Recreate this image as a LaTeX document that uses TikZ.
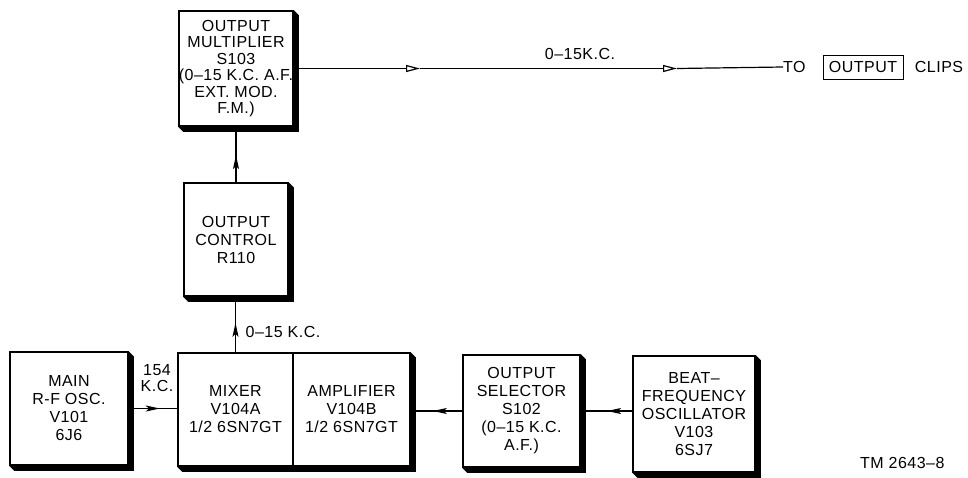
\documentclass[tikz,border=0pt]{standalone}
\usepackage{fontspec}
\setmainfont{Liberation Sans}[LetterSpace=3]
\usetikzlibrary{arrows.meta,decorations.markings,calc}
\newcommand\shadowof[2]{\fill (#1.north east) -- ++(5,5) -- ($(#1.south east)+(5,5)$) -- ($(#2.south west)+(5,5)$) -- (#2.south west) -- (#1.south east) -- cycle;}
\begin{document}
\begin{tikzpicture}[x=1pt,y=-1pt,
  blk/.style={draw, line width=1.5pt, fill=white, align=center, inner sep=0pt, font=\fontsize{16}{18}\selectfont},
  lbl/.style={font=\fontsize{16}{16}\selectfont, inner sep=0pt, align=center},
  flow/.style={line width=1.2pt},
  midarrow/.style={postaction={decorate}, decoration={markings, mark=at position #1 with {\arrow{Stealth[length=14pt,width=6pt,inset=3pt]}}}},
  openarrow/.style={-{Triangle[open,length=14pt,width=7pt,line width=1.2pt]}},
]
\useasboundingbox (0,0) rectangle (968,477);
% boxes
\node[blk, minimum width=106pt, minimum height=115pt, font=\fontsize{16}{16.5}\selectfont] (mult) at (236,68.5)
  {OUTPUT\\MULTIPLIER\\S103\\(0–15 K.C. A.F.\\EXT. MOD.\\F.M.)};
\node[blk, minimum width=104pt, minimum height=113pt] (ctrl) at (236,239.5)
  {OUTPUT\\CONTROL\\R110};
\node[blk, minimum width=118pt, minimum height=113pt] (osc) at (69,408.5)
  {MAIN\\R-F OSC.\\V101\\6J6};
\node[blk, minimum width=115pt, minimum height=113pt] (mixer) at (235.5,409.5)
  {MIXER\\V104A\\1/2 6SN7GT};
\node[blk, minimum width=117pt, minimum height=113pt] (amp) at (351.5,409.5)
  {AMPLIFIER\\V104B\\1/2 6SN7GT};
\node[blk, minimum width=117pt, minimum height=112pt] (sel) at (521.5,411)
  {OUTPUT\\SELECTOR\\S102\\(0–15 K.C.\\A.F.)};
\node[blk, minimum width=122pt, minimum height=116pt] (bfo) at (694,414)
  {BEAT–\\FREQUENCY\\OSCILLATOR\\V103\\6SJ7};
% shadows
\shadowof{mult}{mult}
\shadowof{ctrl}{ctrl}
\shadowof{osc}{osc}
\shadowof{amp}{mixer}
\shadowof{sel}{sel}
\shadowof{bfo}{bfo}
% labels
\node[lbl] (topl) at (580,54) {0–15K.C.};
\node[lbl, anchor=west] (to) at (783,67) {TO};
\node[draw, line width=1pt, lbl, minimum width=80pt, minimum height=24pt] (outb) at (863,67) {OUTPUT};
\node[lbl] (clips) at (939,67) {CLIPS};
\node[lbl] (f154) at (157,378) {154\\K.C.};
\node[lbl] (f015) at (283,332) {0–15 K.C.};
\node[font=\fontsize{16}{16}\selectfont, inner sep=0pt, anchor=base west] (tm) at (860,468) {TM 2643–8};
% connectors
\coordinate (a1) at (420,68.5);
\coordinate (a2) at (677,68.5);
\draw[flow, openarrow] (mult.east) -- (a1);
\draw[flow, openarrow] (a1) -- (a2);
\draw[flow] (a2) -- (to.west);
\draw[flow, midarrow=0.49] (ctrl.north) -- (ctrl.north |- mult.south);
\draw[flow, midarrow=0.53] (mixer.north) -- (mixer.north |- ctrl.south);
\draw[flow, midarrow=0.64] (osc.east) -- (osc.east -| mixer.west);
\draw[flow, midarrow=0.57] (sel.west) -- (sel.west -| amp.east);
\draw[flow, midarrow=0.49] (sel.east -| bfo.west) -- (sel.east);
\end{tikzpicture}
\end{document}
